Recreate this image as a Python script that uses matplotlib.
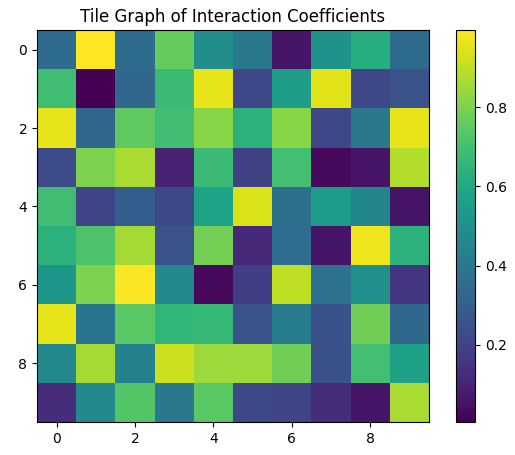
import numpy as np
import matplotlib
matplotlib.use('Agg')
import matplotlib.pyplot as plt

# Interaction coefficients (rows 0..9)
row0 = [0.35, 0.995, 0.35, 0.76, 0.49, 0.40, 0.06, 0.51, 0.62, 0.35]
row1 = [0.69, 0.005, 0.33, 0.68, 0.96, 0.22, 0.56, 0.95, 0.22, 0.26]
row2 = [0.96, 0.33, 0.75, 0.69, 0.82, 0.64, 0.82, 0.22, 0.40, 0.96]
row3 = [0.23, 0.80, 0.87, 0.10, 0.68, 0.20, 0.70, 0.03, 0.06, 0.88]
row4 = [0.69, 0.21, 0.30, 0.22, 0.58, 0.94, 0.37, 0.55, 0.46, 0.06]
row5 = [0.64, 0.72, 0.86, 0.26, 0.79, 0.12, 0.36, 0.06, 0.97, 0.64]
row6 = [0.53, 0.80, 0.99, 0.47, 0.03, 0.19, 0.90, 0.38, 0.50, 0.16]
row7 = [0.96, 0.39, 0.74, 0.66, 0.67, 0.26, 0.42, 0.25, 0.78, 0.34]
row8 = [0.47, 0.86, 0.44, 0.92, 0.85, 0.85, 0.78, 0.25, 0.70, 0.57]
row9 = [0.13, 0.47, 0.73, 0.40, 0.74, 0.22, 0.21, 0.13, 0.06, 0.87]

coeffs = np.array([row0, row1, row2, row3, row4, row5, row6, row7, row8, row9])

fig = plt.figure(figsize=(5.15, 4.55), dpi=100)
ax = fig.add_axes([0.0718, 0.0725, 0.761, 0.8615])
cax = fig.add_axes([0.885, 0.0725, 0.0375, 0.8615])

im = ax.imshow(coeffs, cmap='viridis', aspect='auto')
ax.set_title("Tile Graph of Interaction Coefficients")
fig.colorbar(im, cax=cax)

fig.savefig('out.png', dpi=100)
